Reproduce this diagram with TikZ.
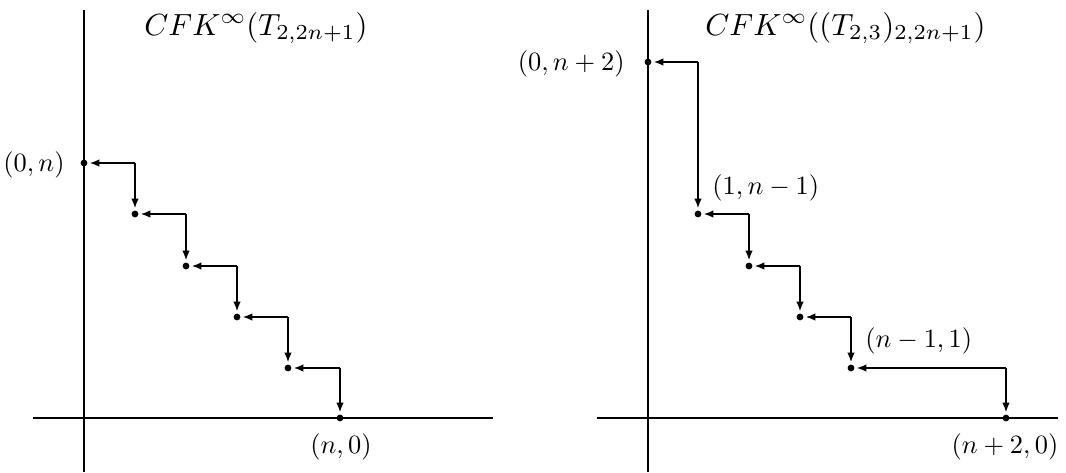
\documentclass[tikz,border=0pt]{standalone}
\usetikzlibrary{arrows.meta}
\newcommand{\lbl}[1]{\scalebox{1.32}{$#1$}}
\newcommand{\ttlt}[1]{\scalebox{1.53}{$#1$}}
\begin{document}
\begin{tikzpicture}[x=0.5pt,y=-0.5pt,
  axis/.style={line width=1pt},
  dot/.style={circle,fill=black,inner sep=0pt,minimum size=3.4pt},
  arr/.style={line width=1pt,-{Latex[length=5pt,width=3.8pt]},shorten >=0.8pt},
  lab/.style={inner sep=0pt},
  ttl/.style={inner sep=0pt,anchor=base west}]
\useasboundingbox (0,0) rectangle (1066,472);
% ---------- left diagram ----------
\coordinate (Lyt) at (84,10); \coordinate (Lyb) at (84,472);
\coordinate (Lxl) at (33,418); \coordinate (Lxr) at (493,418);
\draw[axis] (Lyt) -- (Lyb);
\draw[axis] (Lxl) -- (Lxr);
\node[dot] (a0) at (84,163) {};
\node[dot] (a1) at (135,214) {};
\node[dot] (a2) at (186,266) {};
\node[dot] (a3) at (237,317) {};
\node[dot] (a4) at (288,368) {};
\node[dot] (a5) at (340,418) {};
\coordinate (c1) at (135,163);
\coordinate (c2) at (186,214);
\coordinate (c3) at (237,266);
\coordinate (c4) at (288,317);
\coordinate (c5) at (340,368);
\foreach \i/\j in {1/0,2/1,3/2,4/3,5/4}{
  \draw[arr] (c\i) -- (a\j);
  \draw[arr] (c\i) -- (a\i);
}
\node[ttl] (t1) at (144,35) {\ttlt{CFK^\infty(T_{2,2n+1})}};
\node[lab,anchor=east] (l0) at (65,165) {\lbl{(0,n)}};
\node[lab] (l5) at (341,447) {\lbl{(n,0)}};
% ---------- right diagram ----------
\coordinate (Ryt) at (648,10); \coordinate (Ryb) at (648,472);
\coordinate (Rxl) at (597,418); \coordinate (Rxr) at (1058,418);
\draw[axis] (Ryt) -- (Ryb);
\draw[axis] (Rxl) -- (Rxr);
\node[dot] (b0) at (648,62) {};
\node[dot] (b1) at (698,214) {};
\node[dot] (b2) at (749,266) {};
\node[dot] (b3) at (800,317) {};
\node[dot] (b4) at (851,368) {};
\node[dot] (b5) at (1006,418) {};
\coordinate (d1) at (698,62);
\coordinate (d2) at (749,214);
\coordinate (d3) at (800,266);
\coordinate (d4) at (851,317);
\coordinate (d5) at (1006,368);
\foreach \i/\j in {1/0,2/1,3/2,4/3,5/4}{
  \draw[arr] (d\i) -- (b\j);
  \draw[arr] (d\i) -- (b\i);
}
\node[ttl] (t2) at (705,35) {\ttlt{CFK^\infty((T_{2,3})_{2,2n+1})}};
\node[lab,anchor=east] (m0) at (625,64) {\lbl{(0,n+2)}};
\node[lab,anchor=west] (m1) at (712,188) {\lbl{(1,n-1)}};
\node[lab,anchor=west] (m4) at (865,341) {\lbl{(n-1,1)}};
\node[lab] (m5) at (1005,447) {\lbl{(n+2,0)}};
\end{tikzpicture}
\end{document}
